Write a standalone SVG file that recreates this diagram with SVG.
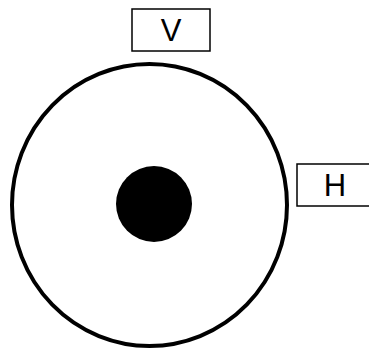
<svg xmlns="http://www.w3.org/2000/svg" width="369" height="349" viewBox="0 0 369 349">
<style>
.box{fill:#fff;stroke:#000;stroke-width:1.5}
.lbl{font-family:"Liberation Sans",Arial,sans-serif;font-size:31px;fill:#000;text-anchor:middle}
</style>
<rect width="369" height="349" fill="#fff"/>
<g id="outer"><ellipse cx="149.5" cy="205" rx="137.5" ry="141" fill="#fff" stroke="#000" stroke-width="4"/></g>
<g id="core"><circle cx="154" cy="204" r="38" fill="#000"/></g>
<g id="V"><rect class="box" x="132" y="9" width="78" height="42"/><text class="lbl" x="171" y="41">V</text></g>
<g id="H"><rect class="box" x="297" y="164" width="80" height="42"/><text class="lbl" x="335" y="196">H</text></g>
<g id="connectors"></g>
</svg>
